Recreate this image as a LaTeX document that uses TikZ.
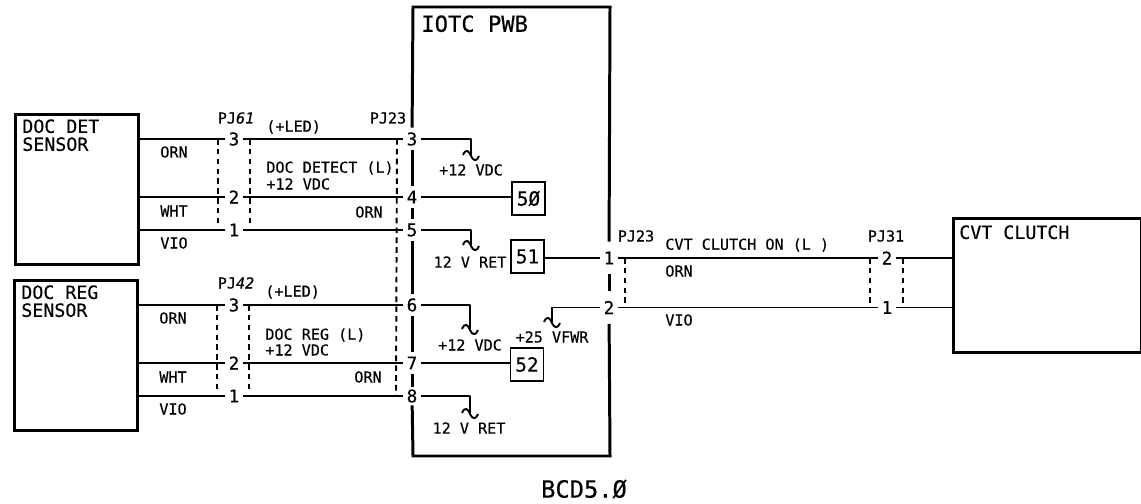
\documentclass[tikz,border=0pt]{standalone}
\usepackage{fontspec}
\setmainfont{DejaVu Sans Mono}[FakeBold=0.3]
\usepackage{tikz}
\usetikzlibrary{positioning}
\tikzstyle{wire} = [line width=1.1pt, line join=round]
\tikzstyle{frame} = [line width=1.7pt]
\tikzstyle{shield} = [line width=1.1pt, dash pattern=on 3.2pt off 2.4pt]
\tikzstyle{stdBox} = [shape = rectangle, draw, frame, anchor=north west, inner sep=0pt]
\tikzstyle{refBox} = [shape = rectangle, draw, line width=1.1pt, minimum width=0.66cm, minimum height=0.66cm, inner sep=0pt, font=\fontsize{11}{11}\selectfont]
\tikzstyle{pin} = [inner sep=0pt, minimum width=0.36cm, minimum height=0.44cm, font=\fontsize{10}{10}\selectfont]
\tikzstyle{lbl} = [inner sep=0pt, font=\fontsize{8.6}{9.4}\selectfont]
\tikzstyle{boxlbl} = [inner sep=0pt, anchor=north west, align=left, font=\fontsize{10.4}{10.2}\selectfont]
\tikzset{squiggle/.pic={\draw[wire] (-8,0) .. controls (-5,-7) and (-2,-4) .. (0,1) .. controls (2,6) and (6,7) .. (8,1);}}

\begin{document}
\begin{tikzpicture}[x=0.02cm, y=-0.02cm]
	\useasboundingbox (0,0) rectangle (1141,503);
	% sensors and clutch
	\node (DetBox) at (14,113) [stdBox, minimum width=2.46cm, minimum height=3cm] {};
	\node (RegBox) at (13,279) [stdBox, minimum width=2.46cm, minimum height=3cm] {};
	\node (CvtBox) at (952,217) [stdBox, minimum width=3.76cm, minimum height=2.68cm] {};
	\node (DetText) at (22,119) [boxlbl] {DOC DET\\SENSOR};
	\node (RegText) at (21,285) [boxlbl] {DOC REG\\SENSOR};
	\node (CvtText) at (959,225) [boxlbl] {CVT CLUTCH};
	% connector pins
	\node (Det3) at (234,139) [pin] {3};
	\node (Det2) at (234,197) [pin] {2};
	\node (Det1) at (234,230) [pin] {1};
	\node (Reg3) at (234,305) [pin] {3};
	\node (Reg2) at (234,363) [pin] {2};
	\node (Reg1) at (234,396) [pin] {1};
	\node (Iot3) at (412,139) [pin] {3};
	\node (Iot4) at (412,197) [pin] {4};
	\node (Iot5) at (412,230) [pin] {5};
	\node (Iot6) at (412,305) [pin] {6};
	\node (Iot7) at (412,363) [pin] {7};
	\node (Iot8) at (412,396) [pin, minimum height=0.36cm] {8};
	\node (Iot1) at (609,258) [pin, minimum height=0.64cm] {1};
	\node (Iot2) at (609,307.5) [pin, minimum height=0.64cm] {2};
	\node (Cvt2) at (887,258) [pin] {2};
	\node (Cvt1) at (887,307.5) [pin] {1};
	% reference boxes
	\node (Ref50) at (528.5,198.5) [refBox] {5Ø};
	\node (Ref51) at (527.5,256.5) [refBox] {51};
	\node (Ref52) at (527,364.5) [refBox] {52};
	% board outline
	\coordinate (TopL) at (413,7);
	\coordinate (TopR) at (610,7);
	\coordinate (BotL) at (413,456);
	\coordinate (BotR) at (610,456);
	\node (Board) at (421,15) [boxlbl, font=\fontsize{12.6}{13}\selectfont] {IOTC PWB};
	\draw[frame] (Iot3) -- (TopL) -- (TopR) -- (Iot1);
	\draw[frame] (Iot3) -- (Iot4);
	\draw[frame] (Iot4) -- (Iot5);
	\draw[frame] (Iot5) -- (Iot6);
	\draw[frame] (Iot6) -- (Iot7);
	\draw[frame] (Iot7) -- (Iot8);
	\draw[frame] (Iot8) -- (BotL) -- (BotR) -- (Iot2);
	\draw[frame] (Iot1) -- (Iot2);
	% wires
	\draw[wire] (DetBox.east |- Det3) -- (Det3);
	\draw[wire] (DetBox.east |- Det2) -- (Det2);
	\draw[wire] (DetBox.east |- Det1) -- (Det1);
	\draw[wire] (RegBox.east |- Reg3) -- (Reg3);
	\draw[wire] (RegBox.east |- Reg2) -- (Reg2);
	\draw[wire] (RegBox.east |- Reg1) -- (Reg1);
	\draw[wire] (Det3) -- (Iot3);
	\draw[wire] (Det2) -- (Iot4);
	\draw[wire] (Det1) -- (Iot5);
	\draw[wire] (Reg3) -- (Iot6);
	\draw[wire] (Reg2) -- (Iot7);
	\draw[wire] (Reg1) -- (Iot8);
	\draw[wire] (Iot1) -- (Cvt2);
	\draw[wire] (Iot2) -- (Cvt1);
	\draw[wire] (Cvt2) -- (CvtBox.west |- Cvt2);
	\draw[wire] (Cvt1) -- (CvtBox.west |- Cvt1);
	\draw[wire] (Iot4) -- (Ref50.west |- Iot4);
	\draw[wire] (Iot7) -- (Ref52.west |- Iot7);
	\draw[wire] (Ref51.east |- Iot1) -- (Iot1);
	% branches ending in a break mark
	\coordinate (Brk3) at (471,155);
	\coordinate (Brk5) at (471,245);
	\coordinate (Brk6) at (470,329);
	\coordinate (Brk8) at (470,413);
	\coordinate (Brk2) at (552,322);
	\draw[wire] (Iot3) -| (Brk3);
	\draw[wire] (Iot5) -| (Brk5);
	\draw[wire] (Iot6) -| (Brk6);
	\draw[wire] (Iot8) -| (Brk8);
	\draw[wire] (Iot2) -| (Brk2);
	\path (Brk3) pic {squiggle};
	\path (Brk5) pic {squiggle};
	\path (Brk6) pic {squiggle};
	\path (Brk8) pic {squiggle};
	\path (Brk2) pic {squiggle};
	% shield lines
	\coordinate (ShA) at (218,139);
	\coordinate (ShAe) at (218,225);
	\coordinate (ShB) at (250,139);
	\coordinate (ShBe) at (250,226);
	\coordinate (ShC) at (217,305);
	\coordinate (ShCe) at (217,392);
	\coordinate (ShD) at (249,305);
	\coordinate (ShDe) at (249,392);
	\coordinate (ShE) at (397,139);
	\coordinate (ShEe) at (396,396);
	\coordinate (ShF) at (625,258);
	\coordinate (ShFe) at (625,304);
	\coordinate (ShG) at (870,258);
	\coordinate (ShGe) at (870,307.5);
	\coordinate (ShH) at (903,258);
	\coordinate (ShHe) at (903,307.5);
	\draw[shield] (ShA) -- (ShAe);
	\draw[shield] (ShB) -- (ShBe);
	\draw[shield] (ShC) -- (ShCe);
	\draw[shield] (ShD) -- (ShDe);
	\draw[shield] (ShE) -- (ShEe);
	\draw[shield] (ShF) -- (ShFe);
	\draw[shield] (ShG) -- (ShGe);
	\draw[shield] (ShH) -- (ShHe);
	% labels, upper harness
	\node (PjDet) at (236,118) [lbl] {PJ{\itshape 61}};
	\node (LedDet) at (266,127) [lbl, anchor=west] {(+LED)};
	\node (PjIotA) at (388,118) [lbl] {PJ23};
	\node (OrnDetA) at (160,152) [lbl, anchor=west] {ORN};
	\node (WhtDet) at (160,211) [lbl, anchor=west] {WHT};
	\node (VioDet) at (160,243) [lbl, anchor=west] {VIO};
	\node (SigDet) at (266,168) [lbl, anchor=west] {DOC DETECT (L)};
	\node (VdcDet) at (266,184) [lbl, anchor=west] {+12 VDC};
	\node (OrnDetB) at (383,212) [lbl, anchor=east] {ORN};
	% labels, lower harness
	\node (PjReg) at (236,283) [lbl] {PJ{\itshape 42}};
	\node (LedReg) at (265,292) [lbl, anchor=west] {(+LED)};
	\node (OrnRegA) at (159,318) [lbl, anchor=west] {ORN};
	\node (WhtReg) at (159,377) [lbl, anchor=west] {WHT};
	\node (VioReg) at (159,409) [lbl, anchor=west] {VIO};
	\node (SigReg) at (265,335) [lbl, anchor=west] {DOC REG (L)};
	\node (VdcReg) at (265,350) [lbl, anchor=west] {+12 VDC};
	\node (OrnRegB) at (382,377) [lbl, anchor=east] {ORN};
	% labels, board
	\node (VdcA) at (471,170) [lbl] {+12 VDC};
	\node (RetA) at (470,262) [lbl] {12 V RET};
	\node (VdcB) at (470,345) [lbl] {+12 VDC};
	\node (RetB) at (469,428) [lbl] {12 V RET};
	\node (Vfwr) at (552,337) [lbl] {+25 VFWR};
	% labels, clutch harness
	\node (PjIotB) at (636,236) [lbl] {PJ23};
	\node (PjCvt) at (886,236) [lbl] {PJ31};
	\node (SigCvt) at (665,245) [lbl, anchor=west] {CVT CLUTCH ON (L )};
	\node (OrnCvt) at (665,271) [lbl, anchor=west] {ORN};
	\node (VioCvt) at (665,320) [lbl, anchor=west] {VIO};
	\node (Code) at (584,489) [inner sep=0pt, font=\fontsize{13.5}{14}\selectfont] {BCD5.Ø};
\end{tikzpicture}
\end{document}
